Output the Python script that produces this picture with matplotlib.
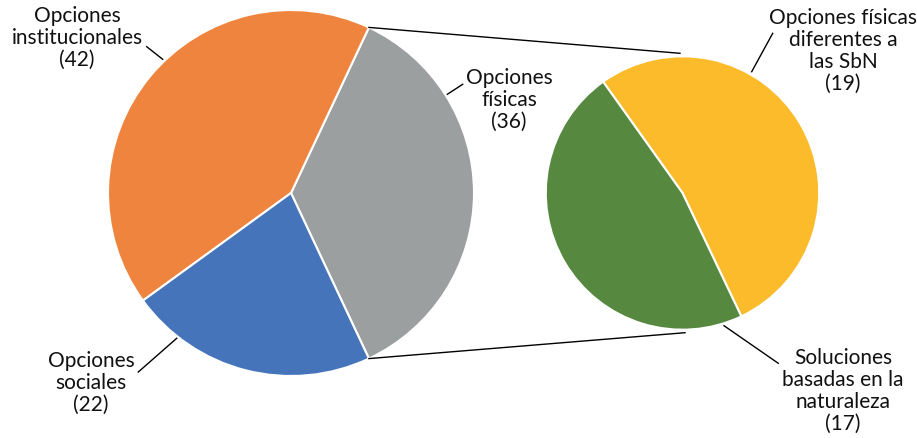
import matplotlib.pyplot as plt
import numpy as np

plt.rcParams.update({
    "figure.facecolor": "white",
    "axes.facecolor": "white",
    "font.family": ["Lato", "DejaVu Sans"],
    "font.size": 15,
})

# data
main_labels = ["Opciones\nfísicas", "Opciones\ninstitucionales", "Opciones\nsociales"]
main_values = [36, 42, 22]
main_colors = ["#9C9FA0", "#EF843E", "#4574BB"]

sub_labels = ["Opciones físicas\ndiferentes a\nlas SbN", "Soluciones\nbasadas en la\nnaturaleza"]
sub_values = [19, 17]
sub_colors = ["#FCBB2B", "#56883F"]

W, H = 917, 438
fig = plt.figure(figsize=(W / 100, H / 100), dpi=100)
ax = fig.add_axes([0, 0, 1, 1])


def px(x, y):
    # pixel position (top-left origin) -> data coords
    return x, H - y


c1, r1 = px(291, 193), 183
c2, r2 = px(682.5, 193), 136.7

wedge_style = {"edgecolor": "white", "linewidth": 1.5}
w1, _ = ax.pie(main_values, colors=main_colors, startangle=-64.8, counterclock=True,
               center=c1, radius=r1, wedgeprops=wedge_style)
w2, _ = ax.pie(sub_values, colors=sub_colors, startangle=-64.5, counterclock=True,
               center=c2, radius=r2, wedgeprops=wedge_style)

ax.set_xlim(0, W)
ax.set_ylim(0, H)
ax.set_aspect("equal")
ax.axis("off")

# connector lines from the split slice to the second pie
g = w1[0]
for th, end in [(g.theta2, (c2[0] - 2.5, c2[1] + r2 + 3)),
                (g.theta1, (c2[0] + 2.5, c2[1] - r2 - 3))]:
    sx = c1[0] + r1 * np.cos(np.radians(th))
    sy = c1[1] + r1 * np.sin(np.radians(th))
    ax.plot([sx, end[0]], [sy, end[1]], color="black", lw=1)

# labels: text centre and leader line (pixel coords)
label_layout = [
    ((509, 100), [(447.3, 94.3), (462.7, 84.3)]),
    ((77, 38), [(146.7, 46.7), (162.7, 59.3)]),
    ((91, 383), [(138.3, 372), (176.7, 338.3)]),
]
sub_layout = [
    ((843, 51), [(751.7, 71.7), (772.7, 33.3)]),
    ((843, 391), [(724, 325.7), (778.3, 363.3)]),
]

items = list(zip(main_labels, main_values)) + list(zip(sub_labels, sub_values))
for (lab, val), (pos, leader) in zip(items, label_layout + sub_layout):
    ax.text(*px(*pos), f"{lab}\n({val})", ha="center", va="center",
            multialignment="center", linespacing=1.12, color="#111111")
    (x0, y0), (x1, y1) = leader
    ax.plot([x0, x1], [H - y0, H - y1], color="black", lw=1)

fig.savefig("out.png", dpi=100, facecolor="white")
plt.close(fig)
